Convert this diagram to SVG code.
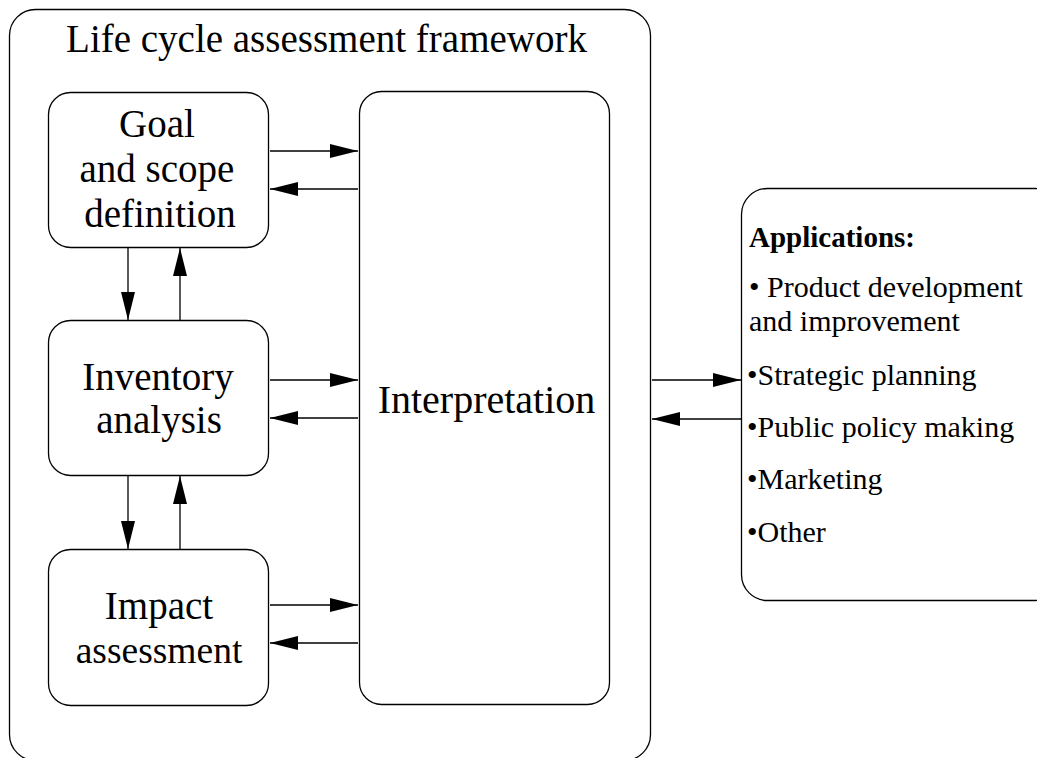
<svg xmlns="http://www.w3.org/2000/svg" width="1037" height="758" viewBox="0 0 1037 758">
  <defs>
    <marker id="ah" viewBox="0 0 28 14" refX="28" refY="7" markerWidth="28" markerHeight="14" markerUnits="userSpaceOnUse" orient="auto">
      <path d="M0,0 L28,7 L0,14 Z" fill="#000"/>
    </marker>
    <style>
      .box { fill: #fff; stroke: #000; stroke-width: 1.3; }
      .t { font-family: "Liberation Serif", "Times New Roman", serif; fill: #000; }
      .big { font-size: 39px; text-anchor: middle; }
      .app { font-size: 30px; }
      .conn line { stroke: #000; stroke-width: 1.3; marker-end: url(#ah); }
    </style>
  </defs>
  <rect width="1037" height="758" fill="#fff"/>

  <g id="framework">
    <rect class="box" x="9.5" y="9.5" width="641" height="751" rx="26"/>
    <text class="t big" x="326.5" y="52">Life cycle assessment framework</text>
  </g>

  <g id="goal">
    <rect class="box" x="48.5" y="92.5" width="220" height="155" rx="22"/>
    <text class="t big" x="157" y="137">Goal</text>
    <text class="t big" x="157" y="182">and scope</text>
    <text class="t big" x="160" y="227">definition</text>
  </g>

  <g id="inventory">
    <rect class="box" x="48.5" y="320.5" width="220" height="155" rx="22"/>
    <text class="t big" x="158" y="390">Inventory</text>
    <text class="t big" x="159" y="433">analysis</text>
  </g>

  <g id="impact">
    <rect class="box" x="48.5" y="549.5" width="220" height="156" rx="22"/>
    <text class="t big" x="159" y="619">Impact</text>
    <text class="t big" x="159" y="663" style="font-size:37.5px">assessment</text>
  </g>

  <g id="interpretation">
    <rect class="box" x="359.5" y="91.5" width="250" height="613" rx="22"/>
    <text class="t big" x="486.5" y="413" style="font-size:40px">Interpretation</text>
  </g>

  <g id="applications">
    <rect class="box" x="741.5" y="188.5" width="320" height="412" rx="26"/>
    <text class="t" x="749" y="247" font-size="29" font-weight="bold">Applications:</text>
    <text class="t app" x="749" y="297">• Product development</text>
    <text class="t app" x="749" y="331">and improvement</text>
    <text class="t app" x="747" y="385">•Strategic planning</text>
    <text class="t app" x="747" y="437">•Public policy making</text>
    <text class="t app" x="747" y="489">•Marketing</text>
    <text class="t app" x="747" y="542">•Other</text>
  </g>

  <g id="connectors" class="conn">
    <line x1="270" y1="151" x2="358" y2="151"/>
    <line x1="358" y1="189" x2="270" y2="189"/>
    <line x1="270" y1="380" x2="358" y2="380"/>
    <line x1="358" y1="418" x2="270" y2="418"/>
    <line x1="270" y1="605" x2="358" y2="605"/>
    <line x1="358" y1="643" x2="270" y2="643"/>
    <line x1="128" y1="248" x2="128" y2="320"/>
    <line x1="180" y1="320" x2="180" y2="248"/>
    <line x1="128" y1="476" x2="128" y2="549"/>
    <line x1="180" y1="549" x2="180" y2="476"/>
    <line x1="652" y1="380" x2="741" y2="380"/>
    <line x1="741" y1="419" x2="652" y2="419"/>
  </g>
</svg>
